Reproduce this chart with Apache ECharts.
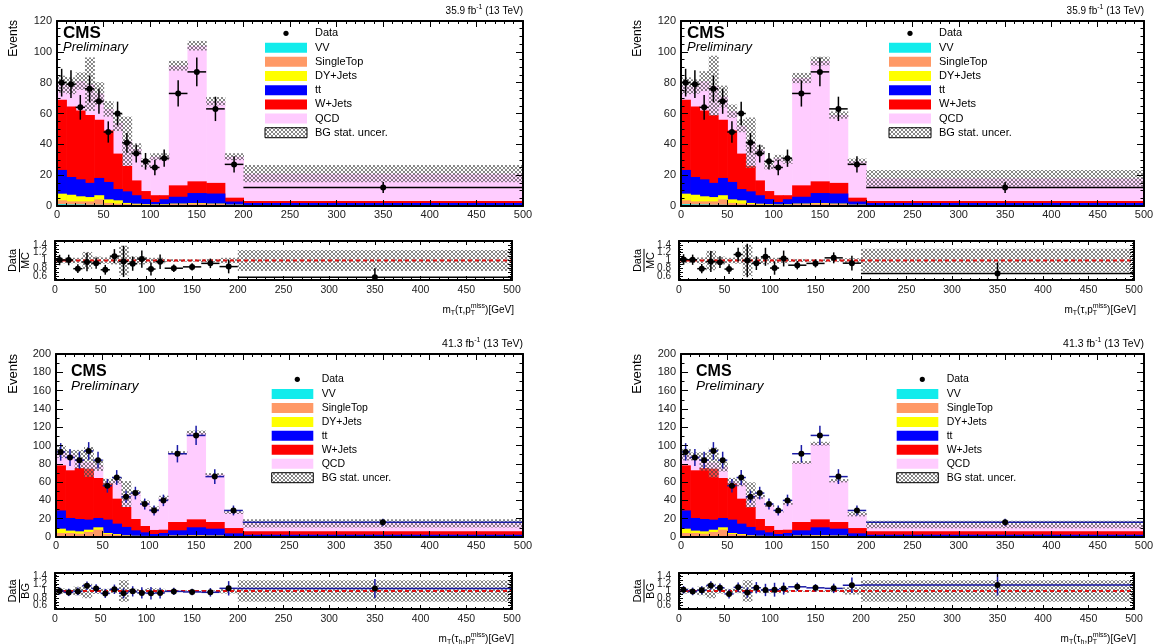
<!DOCTYPE html>
<html>
<head>
<meta charset="utf-8">
<title>mT distributions</title>
<script src="https://cdn.jsdelivr.net/npm/echarts@6.0.0/dist/echarts.min.js"></script>
<style>
html,body{margin:0;padding:0;background:#fff;}
#chart{width:1156px;height:644px;}
</style>
</head>
<body>
<div id="chart"></div>
<script>
// Bin edges of the transverse-mass histograms (GeV)
const binEdges = [0,10,20,30,40,50,60,70,80,90,100,110,120,140,160,180,200,500];

const processNames  = ['VV','SingleTop','DY+Jets','tt','W+Jets','QCD'];
const processColors = ['#12ecec','#ff9966','#ffff00','#0000ff','#ff0000','#ffccff'];
const legendLabels  = ['Data','VV','SingleTop','DY+Jets','tt','W+Jets','QCD','BG stat. uncer.'];

// ---- 2016, 35.9 fb^-1 ----
const data2016    = [80,79,64,76,68,48,60,41,34,29,25,31,73,87,63,27,12];
const dataErr2016 = [9,9,8,8.7,8.2,6.9,7.7,6.4,5.8,5.4,5,5.6,8.5,9.3,7.9,5.2,3.5];
const vv2016 = [1.2,1,1,0.8,0.8,0.6,0.5,0.5,0.4,0.4,0.3,0.3,0.5,0.6,0.5,0.3,0.2];
const st2016 = [2.5,2,2,2.2,3.5,1.4,1,0.8,0.6,0.5,0.4,0.5,0.8,1,0.8,0.4,0.3];
const dy2016 = [4.3,4.3,3.3,2.8,2.7,2.3,2.2,0.7,0.5,0.3,0.3,0.3,0.3,0.3,0.3,0.2,0.2];
const tt2016 = [15.4,11.5,11,9.2,11.2,11.3,7.3,7.5,5.5,3.3,1.6,3.3,4.4,6.5,6.5,2,1.3];
const wj2016 = [45.6,45.8,44.7,44,37.8,33.4,23,16.5,9.6,5.2,4.4,2.6,7.4,7.6,6.9,2.5,1.2];
const qcd2016A = [10,13.4,19,20,17,14,20,16,20.4,18.3,25,25,77.6,88,53,26.6,17.8];
const qcd2016B = [9,12.9,19,19,15,12.5,18,15,19.9,16.8,24,22.5,69.6,78,44,23.6,14.8];
const relUnc2016A = [0.07,0.07,0.07,0.22,0.1,0.08,0.1,0.38,0.1,0.1,0.07,0.07,0.035,0.03,0.04,0.07,0.27];
const relUnc2016B = [0.07,0.06,0.08,0.25,0.1,0.07,0.08,0.4,0.08,0.1,0.07,0.07,0.04,0.03,0.04,0.06,0.3];

// ---- 2017, 41.3 fb^-1 ----
const data2017    = [93,87,84,94,84,56,65,44,48,36,29,40,91,111,66,29,16];
const dataErr2017 = [9.6,9.3,9.2,9.7,9.2,7.5,8.1,6.6,6.9,6,5.4,6.3,9.5,10.5,8.1,5.4,4];
const vv2017 = [0.8,0.7,0.7,0.6,0.6,0.5,0.5,0.4,0.4,0.4,0.3,0.4,0.8,0.9,0.7,0.4,0.3];
const st2017 = [3.6,3.7,2.9,4.9,7.4,2.8,2,1.1,0.7,0.6,0.5,0.6,0.6,0.7,0.6,0.4,0.3];
const dy2017 = [4.7,2.6,2.6,2.5,2.6,1.1,0.8,0.3,0.3,0.2,0.2,0.2,0.2,0.3,0.3,0.2,0.2];
const tt2017 = [19.9,13.8,13.5,11,10.2,14.6,11.3,9.2,5.9,3.9,2.3,3.2,5.7,8.7,7.5,3,1.7];
const wj2017 = [49.3,52.1,55.7,55.7,43.7,39.3,27.3,21.8,12.4,6.9,4.4,3.6,9.1,8.7,7.3,5.8,3.7];
const qcd2017A = [14.7,17.6,9.6,7.3,14,1.7,20.1,14.2,28.8,26,23.3,34.5,75.6,94.7,52.1,17.2,8.8];
const qcd2017B = [11.7,15.1,7.1,6.8,12.5,2.7,17.1,13.2,24.3,23,20.3,29.5,65.1,82.7,45.1,15.2,7.5];
const relUnc2017A = [0.07,0.05,0.12,0.2,0.08,0.06,0.06,0.3,0.06,0.05,0.08,0.06,0.02,0.02,0.02,0.07,0.3];
const relUnc2017B = [0.07,0.05,0.12,0.2,0.07,0.06,0.06,0.3,0.05,0.06,0.06,0.06,0.02,0.02,0.03,0.1,0.3];

const FONT = '"Liberation Sans", Arial, Helvetica, sans-serif';

// Panel layout: main pad and ratio pad rectangles [left, top, width, height]
const panels = [
  { main:[57,21,466,185], ratio:[55,241,457,39], yMax:120, yMinor:4, year:'2016',
    comps:[vv2016,st2016,dy2016,tt2016,wj2016,qcd2016A], data:data2016, err:dataErr2016, unc:relUnc2016A,
    lumi:'35.9', tauSub:false, denom:'MC', barColor:'#000', mcInRatioErr:true, small:true },
  { main:[681,21,463,185], ratio:[679,241,455,39], yMax:120, yMinor:4, year:'2016',
    comps:[vv2016,st2016,dy2016,tt2016,wj2016,qcd2016B], data:data2016, err:dataErr2016, unc:relUnc2016B,
    lumi:'35.9', tauSub:false, denom:'MC', barColor:'#000', mcInRatioErr:true, small:true },
  { main:[56,354,467,183], ratio:[55,573,457,36], yMax:200, yMinor:2, year:'2017',
    comps:[vv2017,st2017,dy2017,tt2017,wj2017,qcd2017A], data:data2017, err:dataErr2017, unc:relUnc2017A,
    lumi:'41.3', tauSub:true, denom:'BG', barColor:'#1a1aa6', mcInRatioErr:false, small:false },
  { main:[681,354,463,183], ratio:[679,573,455,36], yMax:200, yMinor:2, year:'2017',
    comps:[vv2017,st2017,dy2017,tt2017,wj2017,qcd2017B], data:data2017, err:dataErr2017, unc:relUnc2017B,
    lumi:'41.3', tauSub:true, denom:'BG', barColor:'#1a1aa6', mcInRatioErr:false, small:false }
];

// Cross-hatched fill used for the background statistical uncertainty
function makeHatch() {
  const c = document.createElement('canvas');
  c.width = 4; c.height = 4;
  const g = c.getContext('2d');
  g.fillStyle = 'rgba(255,255,255,0.25)';
  g.fillRect(0, 0, 4, 4);
  g.fillStyle = 'rgba(60,60,60,0.62)';
  for (let y = 0; y < 4; y++) for (let x = 0; x < 4; x++) if (x === y || x + y === 3) g.fillRect(x, y, 1, 1);
  return c;
}
const hatch = { image: makeHatch(), repeat: 'repeat' };

const measureCtx = document.createElement('canvas').getContext('2d');
function textWidth(t, size) {
  measureCtx.font = size + 'px ' + FONT;
  return measureCtx.measureText(t).width;
}

function txt(x, y, text, size, o) {
  o = o || {};
  return {
    type: 'text', x, y, rotation: o.rotation || 0, silent: true, z: 100,
    style: {
      text, fill: o.color || '#000', fontSize: size, fontFamily: FONT,
      fontWeight: o.weight || 'normal', fontStyle: o.style || 'normal',
      align: o.align || 'left', verticalAlign: o.valign || 'middle',
      textAlign: o.align || 'left', textVerticalAlign: o.valign || 'middle'
    }
  };
}

// Sequence of text pieces with sub/superscripts, aligned on (x, y)
function seqText(pieces, x, y, align) {
  const widths = pieces.map(p => p.stack ? Math.max(...p.stack.map(q => textWidth(q.t, q.s))) : textWidth(p.t, p.s));
  const total = widths.reduce((a, b) => a + b, 0);
  let cx = align === 'right' ? x - total : x;
  const out = [];
  pieces.forEach((p, i) => {
    const list = p.stack || [p];
    list.forEach(q => out.push(txt(cx, y + (q.dy || 0), q.t, q.s)));
    cx += widths[i];
  });
  return out;
}

const grids = [], xAxes = [], yAxes = [], series = [], graphics = [];

function xAxisCfg(grid, pos, showLabel, major, minor, size, margin) {
  return {
    gridIndex: grid, type: 'value', position: pos, min: 0, max: 500, interval: 50, z: 10,
    axisLine: { show: true, onZero: false, lineStyle: { color: '#000', width: 2 } },
    axisTick: { show: true, inside: true, length: major, lineStyle: { color: '#000', width: 1 } },
    minorTick: { show: true, splitNumber: 5, length: minor, lineStyle: { color: '#000', width: 1 } },
    axisLabel: { show: showLabel, fontSize: size, fontFamily: FONT, color: '#222', margin },
    splitLine: { show: false }, minorSplitLine: { show: false }
  };
}
function yAxisCfg(grid, pos, showLabel, min, max, interval, split, major, minor, size, margin, formatter) {
  return {
    gridIndex: grid, type: 'value', position: pos, min, max, interval, z: 10,
    axisLine: { show: true, onZero: false, lineStyle: { color: '#000', width: 2 } },
    axisTick: { show: true, inside: true, length: major, lineStyle: { color: '#000', width: 1 } },
    minorTick: { show: true, splitNumber: split, length: minor, lineStyle: { color: '#000', width: 1 } },
    axisLabel: { show: showLabel, fontSize: size, fontFamily: FONT, color: '#222', margin, formatter },
    splitLine: { show: false }, minorSplitLine: { show: false }
  };
}

function rectRender(fill) {
  return function (params, api) {
    const a = api.coord([api.value(0), api.value(3)]);
    const b = api.coord([api.value(1), api.value(2)]);
    return { type: 'rect', shape: { x: a[0], y: a[1], width: b[0] - a[0] + 0.6, height: b[1] - a[1] }, style: { fill } };
  };
}
function pointRender(barColor) {
  return function (params, api) {
    const xc = api.value(0), x0 = api.value(1), x1 = api.value(2), y = api.value(3), e = api.value(4);
    const c = api.coord([xc, y]), l = api.coord([x0, y]), r = api.coord([x1, y]);
    const t = api.coord([xc, y + e]), b = api.coord([xc, y - e]);
    return { type: 'group', children: [
      { type: 'line', shape: { x1: l[0], y1: c[1], x2: r[0], y2: c[1] }, style: { stroke: barColor, lineWidth: 1.5 } },
      { type: 'line', shape: { x1: c[0], y1: t[1], x2: c[0], y2: b[1] }, style: { stroke: barColor, lineWidth: 1.5 } },
      { type: 'circle', shape: { cx: c[0], cy: c[1], r: 3 }, style: { fill: '#000' } }
    ] };
  };
}

function ratioLabel(v) {
  const k = Math.round(v * 10);
  return (k % 2 === 0 && k > 5 && k < 15) ? String(k / 10) : '';
}

panels.forEach((p, idx) => {
  const gm = grids.length;
  grids.push({ left: p.main[0], top: p.main[1], width: p.main[2], height: p.main[3], containLabel: false, outerBoundsMode: 'none' });
  const gr = grids.length;
  grids.push({ left: p.ratio[0], top: p.ratio[1], width: p.ratio[2], height: p.ratio[3], containLabel: false, outerBoundsMode: 'none' });

  const xm = xAxes.length;
  xAxes.push(xAxisCfg(gm, 'bottom', true, 6, 3, 11, 3), xAxisCfg(gm, 'top', false, 6, 3, 11, 3));
  const xr = xAxes.length;
  xAxes.push(xAxisCfg(gr, 'bottom', true, 4, 2, 10.5, 5), xAxisCfg(gr, 'top', false, 4, 2, 10.5, 5));
  const ym = yAxes.length;
  yAxes.push(yAxisCfg(gm, 'left', true, 0, p.yMax, 20, p.yMinor, 7, 3.5, 11, 5),
             yAxisCfg(gm, 'right', false, 0, p.yMax, 20, p.yMinor, 7, 3.5, 11, 5));
  const yr = yAxes.length;
  yAxes.push(yAxisCfg(gr, 'left', true, 0.5, 1.5, 0.1, 2, 4, 2, 10, 8, ratioLabel),
             yAxisCfg(gr, 'right', false, 0.5, 1.5, 0.1, 2, 4, 2, 10, 8, ratioLabel));

  // cumulative stack tops
  const nb = binEdges.length - 1;
  const cum = [];
  p.comps.forEach((arr, k) => cum.push(arr.map((v, i) => v + (k ? cum[k - 1][i] : 0))));
  const total = cum[cum.length - 1];

  // draw from the topmost process down so each lower one covers the previous
  for (let k = p.comps.length - 1; k >= 0; k--) {
    const items = [];
    for (let i = 0; i < nb; i++) items.push([binEdges[i], binEdges[i + 1], 0, cum[k][i]]);
    series.push({ type: 'custom', name: processNames[k] + p.year, xAxisIndex: xm, yAxisIndex: ym, z: 2,
      silent: true, animation: false, clip: true, data: items, renderItem: rectRender(processColors[k]) });
  }
  const band = [];
  for (let i = 0; i < nb; i++) band.push([binEdges[i], binEdges[i + 1], total[i] * (1 - p.unc[i]), total[i] * (1 + p.unc[i])]);
  series.push({ type: 'custom', xAxisIndex: xm, yAxisIndex: ym, z: 3, silent: true, animation: false, clip: true,
    data: band, renderItem: rectRender(hatch) });

  const pts = [];
  for (let i = 0; i < nb; i++) pts.push([(binEdges[i] + binEdges[i + 1]) / 2, binEdges[i], binEdges[i + 1], p.data[i], p.err[i]]);
  series.push({ type: 'custom', xAxisIndex: xm, yAxisIndex: ym, z: 5, silent: true, animation: false, clip: true,
    data: pts, renderItem: pointRender(p.barColor) });

  // ratio pad
  const rband = [];
  for (let i = 0; i < nb; i++) rband.push([binEdges[i], binEdges[i + 1], 1 - p.unc[i], 1 + p.unc[i]]);
  series.push({ type: 'custom', xAxisIndex: xr, yAxisIndex: yr, z: 2, silent: true, animation: false, clip: true,
    data: rband, renderItem: rectRender(hatch) });
  series.push({ type: 'line', xAxisIndex: xr, yAxisIndex: yr, z: 4, silent: true, animation: false,
    data: [[0, 1], [500, 1]], symbol: 'none', lineStyle: { color: '#e01010', width: 2, type: [4, 3] } });
  const rpts = [];
  for (let i = 0; i < nb; i++) {
    const r = p.data[i] / total[i];
    const de = p.err[i] / total[i];
    const e = p.mcInRatioErr ? Math.sqrt(de * de + p.unc[i] * p.unc[i] * r * r) : de;
    rpts.push([(binEdges[i] + binEdges[i + 1]) / 2, binEdges[i], binEdges[i + 1], r, e]);
  }
  series.push({ type: 'custom', xAxisIndex: xr, yAxisIndex: yr, z: 5, silent: true, animation: false, clip: true,
    data: rpts, renderItem: pointRender(p.barColor) });

  // ---- text ----
  const L = p.main[0], T = p.main[1], R = p.main[0] + p.main[2];
  if (p.small) {
    graphics.push(txt(L + 6, T + 12, 'CMS', 17, { weight: 'bold' }));
    graphics.push(txt(L + 6, T + 26.5, 'Preliminary', 13, { style: 'italic' }));
    graphics.push(txt(13.7 + (idx % 2 ? 624 : 0), T - 1, 'Events', 12, { rotation: Math.PI / 2, align: 'right' }));
  } else {
    graphics.push(txt(L + 15, T + 18, 'CMS', 16, { weight: 'bold' }));
    graphics.push(txt(L + 15, T + 32, 'Preliminary', 13.5, { style: 'italic' }));
    graphics.push(txt(13.7 + (idx % 2 ? 624 : 0), T, 'Events', 13, { rotation: Math.PI / 2, align: 'right' }));
  }
  const ls = p.small ? 10 : 10.5;
  graphics.push(...seqText([{ t: p.lumi + ' fb', s: ls }, { t: '-1', s: 7, dy: -3.5 }, { t: ' (13 TeV)', s: ls }],
    R, T - 10, 'right'));

  // x-axis title under the ratio pad
  const RR = p.ratio[0] + p.ratio[2];
  const ty = p.ratio[1] + p.ratio[3] + 30;
  const tau = p.tauSub ? [{ t: '(τ', s: 10 }, { t: 'h', s: 7, dy: 3 }, { t: ',p', s: 10 }] : [{ t: '(τ,p', s: 10 }];
  graphics.push(...seqText([{ t: 'm', s: 10 }, { t: 'T', s: 7, dy: 3 }].concat(tau,
    [{ stack: [{ t: 'miss', s: 7, dy: -4 }, { t: 'T', s: 7, dy: 3.5 }] }, { t: ')[GeV]', s: 10 }]), RR + 2, ty, 'right'));

  // ratio y title (fraction)
  const fx = (idx % 2 ? 644 : 19.5), fy = p.ratio[1] + p.ratio[3] / 2;
  const fw = Math.max(textWidth('Data', 11), textWidth(p.denom, 11));
  graphics.push({ type: 'group', x: fx, y: fy, rotation: Math.PI / 2, silent: true, z: 100, children: [
    txt(0, -1, 'Data', 11, { align: 'center', valign: 'bottom' }),
    { type: 'line', shape: { x1: -fw / 2, y1: 0, x2: fw / 2, y2: 0 }, style: { stroke: '#000', lineWidth: 1 } },
    txt(0, 1, p.denom, 11, { align: 'center', valign: 'top' })
  ] });

  // legend
  const lg = p.small
    ? { bx: 208 + L, bw: 42, bh: 10, tx: 258 + L, dotX: 229 + L, dotY: T + 12.3, y0: T + 26.7, step: 14.17, fs: 11 }
    : { bx: 215.7 + L, bw: 41.6, bh: 10, tx: 265.7 + L, dotX: 241.3 + L, dotY: T + 25.3, y0: T + 40, step: 13.95, fs: 10.5 };
  graphics.push({ type: 'circle', shape: { cx: lg.dotX, cy: lg.dotY, r: 2.6 }, style: { fill: '#000' }, silent: true, z: 100 });
  graphics.push(txt(lg.tx, lg.dotY, legendLabels[0], lg.fs));
  for (let k = 0; k < 7; k++) {
    const cy = lg.y0 + k * lg.step;
    const isBand = k === 6;
    graphics.push({ type: 'rect', shape: { x: lg.bx, y: cy - lg.bh / 2, width: lg.bw, height: lg.bh },
      style: isBand ? { fill: hatch, stroke: '#000', lineWidth: 1 } : { fill: processColors[k] }, silent: true, z: 100 });
    graphics.push(txt(lg.tx, cy, legendLabels[k + 1], lg.fs));
  }
});

const chart = echarts.init(document.getElementById('chart'), null, { renderer: 'canvas' });
chart.setOption({
  animation: false,
  backgroundColor: '#fff',
  grid: grids,
  xAxis: xAxes,
  yAxis: yAxes,
  series,
  graphic: { elements: graphics }
});
</script>
</body>
</html>
